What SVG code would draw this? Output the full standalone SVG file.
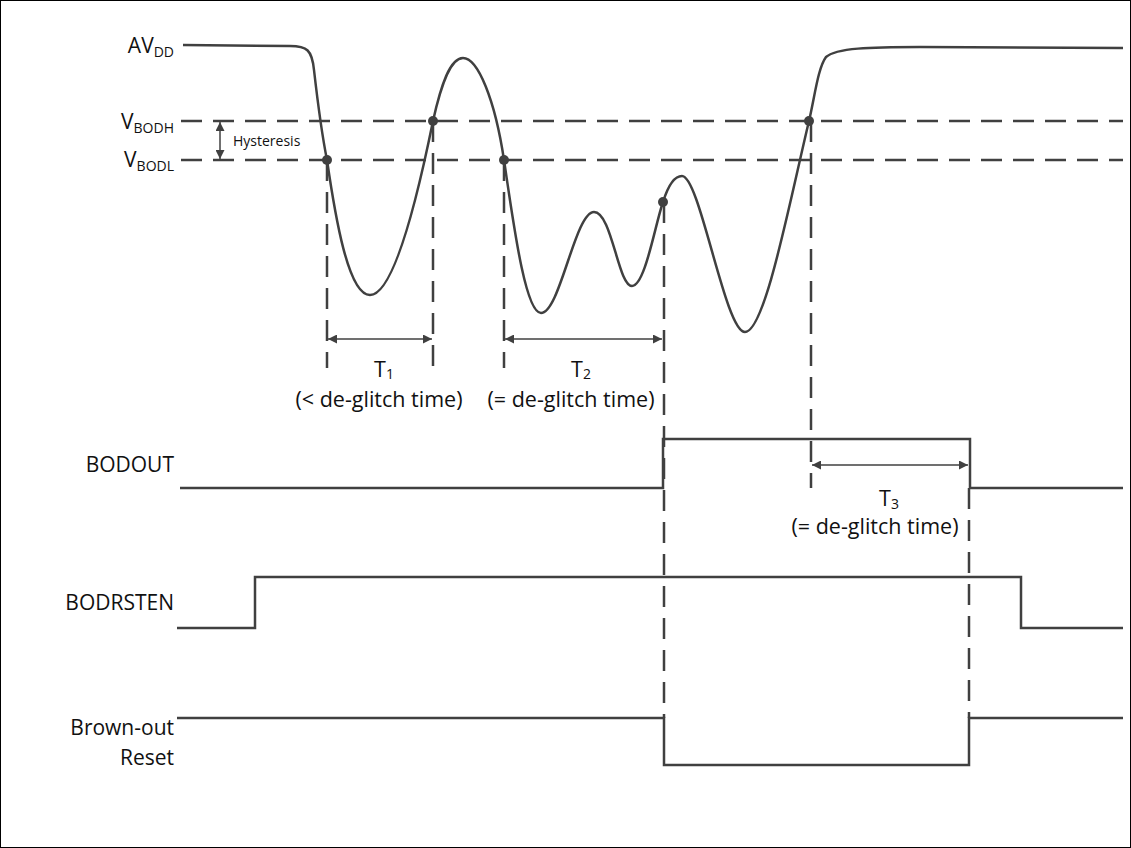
<svg xmlns="http://www.w3.org/2000/svg" width="1131" height="848" viewBox="0 0 1131 848">
<style>
.lbl{font-family:"Open Sans","Liberation Sans",sans-serif;font-size:21px;fill:#111}
.sub{font-size:14px}
.hys{font-family:"Open Sans","Liberation Sans",sans-serif;font-size:14px;fill:#111}
.tl{font-family:"Open Sans","Liberation Sans",sans-serif;font-size:21.5px;fill:#111;text-anchor:middle}
.wave{fill:none;stroke:#404040;stroke-width:2.5;stroke-linejoin:round}
.sig{fill:none;stroke:#404040;stroke-width:2.5}
.dash{fill:none;stroke:#404040;stroke-width:2.5;stroke-dasharray:21 11}
.dim{fill:none;stroke:#404040;stroke-width:1.5;marker-start:url(#ah);marker-end:url(#ah)}
.dot{fill:#404040}
</style>
<defs>
<marker id="ah" viewBox="0 0 10 10" refX="10" refY="5" markerWidth="12" markerHeight="9" markerUnits="userSpaceOnUse" orient="auto-start-reverse">
<path d="M0,0 L10,5 L0,10 Z" fill="#404040"/>
</marker>
</defs>
<rect x="0.5" y="0.5" width="1130" height="847" fill="#fff" stroke="#000" stroke-width="1"/>

<g id="labels">
<text class="lbl" x="174" y="53" text-anchor="end">AV<tspan class="sub" dy="4">DD</tspan></text>
<text class="lbl" x="174" y="129" text-anchor="end">V<tspan class="sub" dy="4">BODH</tspan></text>
<text class="lbl" x="174" y="167" text-anchor="end">V<tspan class="sub" dy="4">BODL</tspan></text>
<text class="hys" x="233" y="146">Hysteresis</text>
<text class="lbl" x="174" y="472" text-anchor="end">BODOUT</text>
<text class="lbl" x="174" y="610" text-anchor="end">BODRSTEN</text>
<text class="lbl" x="174" y="735" text-anchor="end">Brown-out</text>
<text class="lbl" x="174" y="765" text-anchor="end">Reset</text>
</g>

<g id="thresholds">
<line class="dash" x1="181" y1="121" x2="1123" y2="121"/>
<line class="dash" x1="181" y1="160" x2="1123" y2="160"/>
</g>

<g id="avdd">
<path class="wave" d="M183,45 L290,46 C307,46 312,50 314,70 C318,105 322,135 327,160 C335,215 348,295 370,295 C395,295 420,185 433,121 C441,85 450,58 463,58 C478,58 495,100 504,160 C513,220 525,313 541,313 C560,313 575,212 594,212 C612,212 618,286 632,286 C645,286 655,225 663,202 C668,186 674,176 682,176 C700,176 725,332 745,332 C765,332 790,200 809,121 C815,95 818,68 826,57 C836,48 870,47 920,47 L1123,48"/>
<circle class="dot" cx="327" cy="160" r="5"/>
<circle class="dot" cx="433" cy="121" r="5"/>
<circle class="dot" cx="504" cy="160" r="5"/>
<circle class="dot" cx="663" cy="202" r="5"/>
<circle class="dot" cx="809" cy="121" r="5"/>
</g>

<g id="bodout">
<path class="sig" d="M180,488 L663,488 L663,439 L970,439 L970,488 L1123,488"/>
</g>
<g id="bodrsten">
<path class="sig" d="M177,628 L255,628 L255,577 L1021,577 L1021,628 L1123,628"/>
</g>
<g id="brownout-reset">
<path class="sig" d="M177,718 L664,718 L664,765 L969,765 L969,718 L1123,718"/>
</g>

<g id="connectors">
<line class="dash" x1="327" y1="160" x2="327" y2="368"/>
<line class="dash" x1="433" y1="121" x2="433" y2="368"/>
<line class="dash" x1="504" y1="160" x2="504" y2="368"/>
<line class="dash" x1="664" y1="202" x2="664" y2="718"/>
<line class="dash" x1="811" y1="121" x2="811" y2="488"/>
<line class="dash" x1="969" y1="488" x2="969" y2="718"/>
<line class="dim" x1="220" y1="122" x2="220" y2="159"/>
<line class="dim" x1="328" y1="339" x2="432" y2="339"/>
<line class="dim" x1="505" y1="339" x2="662" y2="339"/>
<line class="dim" x1="812" y1="465" x2="968" y2="465"/>
</g>

<g id="dimension-labels">
<text class="tl" x="384" y="377">T<tspan class="sub" dy="2">1</tspan></text>
<text class="tl" x="379" y="407">(&lt; de-glitch time)</text>
<text class="tl" x="581" y="377">T<tspan class="sub" dy="2">2</tspan></text>
<text class="tl" x="571" y="407">(= de-glitch time)</text>
<text class="tl" x="889" y="506">T<tspan class="sub" dy="3">3</tspan></text>
<text class="tl" x="875" y="534">(= de-glitch time)</text>
</g>
</svg>
